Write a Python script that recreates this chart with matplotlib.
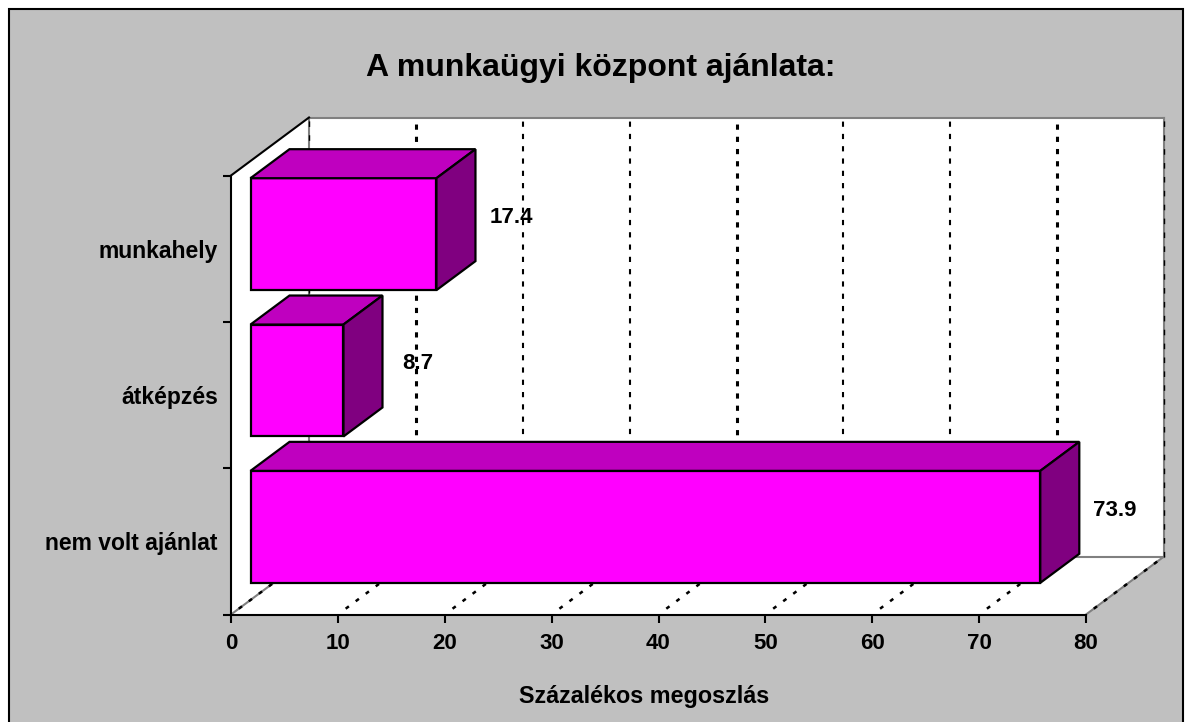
import matplotlib
matplotlib.use('Agg')
import matplotlib.pyplot as plt
from matplotlib.patches import Polygon, Rectangle

plt.rcParams['font.family'] = ['Liberation Sans', 'DejaVu Sans']
plt.rcParams['font.weight'] = 'bold'

categories = ['nem volt ajánlat', 'átképzés', 'munkahely']
values = [73.9, 8.7, 17.4]
value_labels = ['73.9', '8.7', '17.4']
x_ticks = [0, 10, 20, 30, 40, 50, 60, 70, 80]

title = 'A munkaügyi központ ajánlata:'
xlabel = 'Százalékos megoszlás'

GRAY = '#C0C0C0'
FRONT = '#FF00FF'
TOP = '#BF00BF'
SIDE = '#800080'

fig = plt.figure(figsize=(11.92, 7.22), dpi=100, facecolor='white')
fig.add_artist(Rectangle((8.5 / 1192, -0.01), 1174 / 1192, 1.01 - 9 / 722, transform=fig.transFigure,
                         facecolor=GRAY, edgecolor='black', lw=1.5, zorder=-1))

ax = fig.add_axes([231 / 1192, (722 - 614.5) / 722, 855 / 1192, 439 / 722])
ax.patch.set_visible(False)
ax.set_xlim(0, 80)
ax.set_ylim(-0.5, 2.5)

# depth of the fake 3d box, in data units
DX = 78 / (855 / 80)
DY = 58 / (439 / 3)


def proj(x, y, d):
    return (x + d * DX, y + d * DY)


def poly(pts, **kw):
    ax.add_patch(Polygon(pts, closed=True, clip_on=False, **kw))


# walls
poly([proj(0, -0.5, 1), proj(80, -0.5, 1), proj(80, 2.5, 1), proj(0, 2.5, 1)], facecolor='white', edgecolor='none', zorder=1)
poly([proj(0, -0.5, 0), proj(0, -0.5, 1), proj(0, 2.5, 1), proj(0, 2.5, 0)], facecolor='white', edgecolor='none', zorder=1)
poly([proj(0, -0.5, 0), proj(80, -0.5, 0), proj(80, -0.5, 1), proj(0, -0.5, 1)], facecolor='white', edgecolor='none', zorder=1)


def wall_line(a, b, **kw):
    ax.plot([a[0], b[0]], [a[1], b[1]], clip_on=False, **kw)


gray_line = dict(color='#808080', lw=1.5, zorder=1.5)
wall_line(proj(0, 2.5, 1), proj(80, 2.5, 1), **gray_line)
wall_line(proj(0, -0.5, 1), proj(80, -0.5, 1), **gray_line)
wall_line(proj(0, -0.5, 0), proj(0, -0.5, 1), **gray_line)
wall_line(proj(80, -0.5, 0), proj(80, -0.5, 1), **gray_line)
wall_line(proj(0, -0.5, 1), proj(0, 2.5, 1), **gray_line)
wall_line(proj(80, -0.5, 1), proj(80, 2.5, 1), **gray_line)
wall_line(proj(0, 2.5, 0), proj(0, 2.5, 1), color='black', lw=1.5, zorder=2)

# dotted grid, back wall and floor
for t in x_ticks:
    heavy = t in (10, 40, 70)
    if t in (0, 80):
        wall_line(proj(t, -0.5, 1), proj(t, 2.5, 1), color='black', lw=1.0, ls=(0, (4, 6)), zorder=1.8)
    else:
        wall_line(proj(t, -0.5, 1), proj(t, 2.5, 1), color='black', lw=2.2 if heavy else 1.5,
                  ls=(0, (1.7, 2.3)) if heavy else (0, (2.5, 3.4)), zorder=1.8)
    wall_line(proj(t, -0.5, 0.1), proj(t, -0.5, 1), color='black', lw=1.8, ls=(0, (1.6, 3.4)), zorder=1.8)

# bars
h = 0.765
label_dx = [38, 42, 38]
for i in [2, 1, 0]:
    v = values[i]
    y0, y1 = i - h / 2, i + h / 2
    style = dict(edgecolor='black', lw=1.6, joinstyle='miter', zorder=3)
    poly([proj(0, y0, 0.25), proj(v, y0, 0.25), proj(v, y1, 0.25), proj(0, y1, 0.25)], facecolor=FRONT, **style)
    poly([proj(0, y1, 0.25), proj(v, y1, 0.25), proj(v, y1, 0.75), proj(0, y1, 0.75)], facecolor=TOP, **style)
    poly([proj(v, y0, 0.25), proj(v, y0, 0.75), proj(v, y1, 0.75), proj(v, y1, 0.25)], facecolor=SIDE, **style)
    ax.annotate(value_labels[i], xy=proj(v, i, 0.25), xytext=(label_dx[i], 12), textcoords='offset points',
                ha='left', va='center', fontsize=16, fontweight='bold', color='black', zorder=5,
                annotation_clip=False)

# axes
ax.spines['top'].set_visible(False)
ax.spines['right'].set_visible(False)
ax.spines['left'].set_linewidth(1.5)
ax.spines['bottom'].set_linewidth(1.5)
ax.set_xticks(x_ticks)
ax.set_yticks([-0.5, 0.5, 1.5, 2.5])
ax.set_yticklabels([])
ax.set_yticks([0, 1, 2], labels=categories, minor=True)
ax.tick_params(axis='x', length=6, width=1.5, labelsize=16, pad=7)
ax.tick_params(axis='y', which='major', length=6, width=1.5)
ax.tick_params(axis='y', which='minor', length=0, pad=9.5, labelsize=16.5)

fig.text(601 / 1192, 1 - 68 / 722, title, ha='center', va='center', fontsize=23, fontweight='bold')
fig.text(644 / 1192, 1 - 697 / 722, xlabel, ha='center', va='center', fontsize=16.8, fontweight='bold')

fig.savefig('out.png', dpi=100, facecolor=fig.get_facecolor())
